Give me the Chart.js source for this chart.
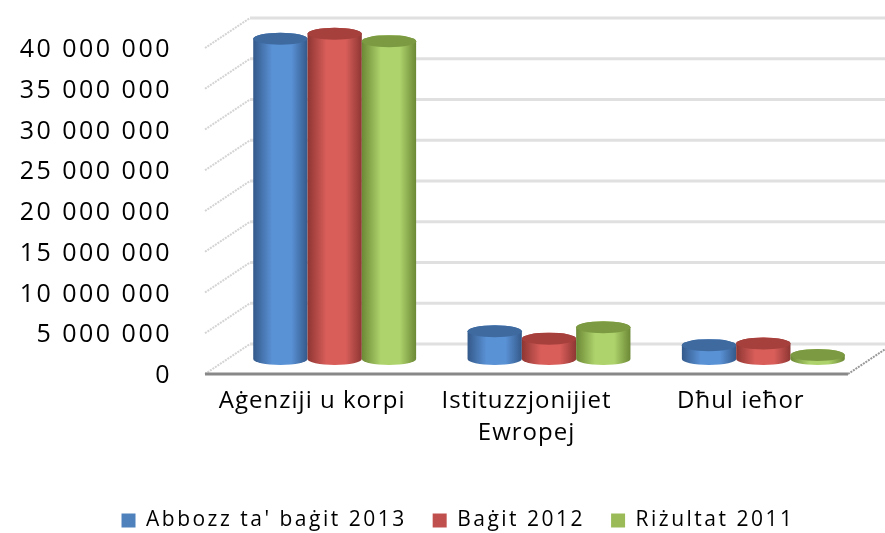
<!DOCTYPE html>
<html>
<head>
<meta charset="utf-8">
<script src="https://cdn.jsdelivr.net/npm/chart.js@4.4.1/dist/chart.umd.min.js"></script>
<style>
  html, body { margin: 0; padding: 0; background: #fff; }
  #wrap { width: 885px; height: 533px; }
</style>
</head>
<body>
<div id="wrap"><canvas id="chart"></canvas></div>
<script>
const categories = ['Aġenziji u korpi', ['Istituzzjonijiet', 'Ewropej'], 'Dħul ieħor'];
const seriesNames = ["Abbozz ta' baġit 2013", 'Baġit 2012', 'Riżultat 2011'];
const draft2013 = [39300000, 3400000, 1700000];
const budget2012 = [39900000, 2500000, 1900000];
const result2011 = [39000000, 3900000, 500000];
const yMax = 40000000;
const yStep = 5000000;

const colors = ['#4f81bd', '#c0504d', '#9bbb59'];
const shades = [
    { edge: '#34598a', mid: '#5a92d6', top: '#3e6aa0' },
    { edge: '#8e3633', mid: '#d95e5a', top: '#a5403c' },
    { edge: '#6c8835', mid: '#aed36c', top: '#7c9a42' }
];

// 3d look: full depth of the floor / back wall
const depth = { x: 45, y: -30 };

function spaced(v) {
    return String(v).replace(/\B(?=(\d{3})+(?!\d))/g, ' ');
}

// the original text is drawn with wide letter spacing
function withSpacing(obj, names, spacing, shift) {
    names.forEach(name => {
        const orig = obj[name];
        obj[name] = function (...args) {
            const ctx = this.ctx;
            const prev = ctx.letterSpacing;
            ctx.save();
            ctx.letterSpacing = spacing;
            if (shift && name !== 'fit') ctx.translate(shift.x, shift.y);
            const r = orig.apply(this, args);
            ctx.restore();
            ctx.letterSpacing = prev;
            return r;
        };
    });
}

function spaceScale(spacing, shift) {
    return function (scale) {
        if (!scale._spaced) {
            withSpacing(scale, ['drawLabels'], spacing, shift);
            scale._spaced = true;
        }
    };
}

const walls = {
    id: 'walls',
    afterInit(chart) {
        withSpacing(chart.legend, ['fit', 'draw'], '2.5px', { x: 34, y: 10 });
    },
    beforeDatasetsDraw(chart) {
        const ctx = chart.ctx;
        const y = chart.scales.y;
        const a = chart.chartArea;
        ctx.save();
        y.ticks.forEach(t => {
            const py = y.getPixelForValue(t.value);
            ctx.setLineDash([2, 1]);
            ctx.strokeStyle = '#d4d4d4';
            ctx.lineWidth = 2;
            ctx.beginPath();
            ctx.moveTo(a.left, py);
            ctx.lineTo(a.left + depth.x, py + depth.y);
            ctx.stroke();
            ctx.setLineDash([]);
            ctx.strokeStyle = '#e0e0e0';
            ctx.lineWidth = 3;
            ctx.beginPath();
            ctx.moveTo(a.left + depth.x, py + depth.y);
            ctx.lineTo(chart.width, py + depth.y);
            ctx.stroke();
        });
        // floor
        ctx.strokeStyle = '#888';
        ctx.lineWidth = 3;
        ctx.beginPath();
        ctx.moveTo(a.left, a.bottom);
        ctx.lineTo(a.right, a.bottom);
        ctx.stroke();
        ctx.lineWidth = 2;
        ctx.strokeStyle = '#999';
        ctx.setLineDash([2, 1]);
        ctx.beginPath();
        ctx.moveTo(a.right, a.bottom);
        ctx.lineTo(a.right + depth.x, a.bottom + depth.y);
        ctx.stroke();
        ctx.restore();
    },
    beforeDatasetDraw() {
        return false;
    },
    afterDatasetsDraw(chart) {
        const ctx = chart.ctx;
        ctx.save();
        const n = chart.data.labels.length;
        for (let c = 0; c < n; c++) {
            chart.data.datasets.forEach((ds, i) => {
                const bar = chart.getDatasetMeta(i).data[c];
                const p = bar.getProps(['x', 'y', 'base', 'width'], true);
                const cx = p.x + depth.x / 2;
                const top = p.y + depth.y / 2;
                const bottom = p.base + depth.y / 2;
                const rx = p.width / 2;
                const ry = 6;
                const s = shades[i];
                const g = ctx.createLinearGradient(cx - rx, 0, cx + rx, 0);
                g.addColorStop(0, s.edge);
                g.addColorStop(0.35, s.mid);
                g.addColorStop(0.7, s.mid);
                g.addColorStop(1, s.edge);
                ctx.fillStyle = g;
                ctx.beginPath();
                ctx.moveTo(cx - rx, top);
                ctx.lineTo(cx - rx, bottom);
                ctx.ellipse(cx, bottom, rx, ry, 0, Math.PI, 0, true);
                ctx.lineTo(cx + rx, top);
                ctx.ellipse(cx, top, rx, ry, 0, 0, Math.PI, true);
                ctx.closePath();
                ctx.fill();
                ctx.fillStyle = s.top;
                ctx.beginPath();
                ctx.ellipse(cx, top, rx, ry, 0, 0, Math.PI * 2);
                ctx.fill();
            });
        }
        ctx.restore();
    }
};

new Chart(document.getElementById('chart'), {
    type: 'bar',
    data: {
        labels: categories,
        datasets: [
            { label: seriesNames[0], data: draft2013, backgroundColor: colors[0] },
            { label: seriesNames[1], data: budget2012, backgroundColor: colors[1] },
            { label: seriesNames[2], data: result2011, backgroundColor: colors[2] }
        ]
    },
    options: {
        responsive: true,
        maintainAspectRatio: false,
        animation: false,
        layout: { padding: { top: 43, left: 0, right: 37, bottom: 2 } },
        datasets: { bar: { categoryPercentage: 0.76, barPercentage: 1 } },
        scales: {
            x: {
                grid: { display: false, drawTicks: false },
                border: { display: false },
                ticks: {
                    color: '#000',
                    padding: 12,
                    maxRotation: 0,
                    font: { family: 'Open Sans', size: 24, lineHeight: 1.3 }
                },
                afterFit(scale) {
                    scale.height = 100;
                    spaceScale('1px')(scale);
                }
            },
            y: {
                min: 0,
                max: yMax,
                grid: { display: false, drawTicks: false },
                border: { display: false },
                ticks: {
                    stepSize: yStep,
                    color: '#000',
                    padding: 33,
                    font: { family: 'Open Sans', size: 25 },
                    callback: v => spaced(v)
                },
                afterFit(scale) {
                    scale.width = 205;
                    spaceScale('2.5px', { x: 0, y: 2 })(scale);
                }
            }
        },
        plugins: {
            tooltip: { enabled: false },
            legend: {
                position: 'bottom',
                labels: {
                    color: '#000',
                    boxWidth: 14,
                    boxHeight: 14,
                    padding: 26,
                    font: { family: 'Open Sans', size: 21 }
                }
            }
        }
    },
    plugins: [walls]
});
</script>
</body>
</html>
